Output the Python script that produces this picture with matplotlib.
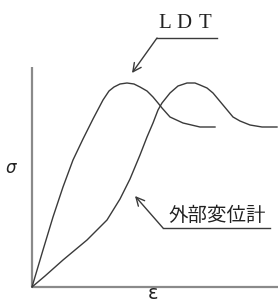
import matplotlib
matplotlib.use("Agg")
import matplotlib.pyplot as plt

# LDT curve (strain, stress) in arbitrary units
ldt_strain = [0, 11, 21, 31, 41, 51, 61, 71, 77, 82, 88, 95, 102, 108, 115, 121, 126, 130, 138, 151, 168, 183]
ldt_stress = [0, 37, 70, 100, 127, 148, 168, 187, 196, 200, 203, 204, 203, 200, 196, 190, 184, 179, 170, 164, 160, 160]

# External displacement gauge curve
ext_strain = [0, 13, 31, 55, 75, 88, 98, 108, 115, 121, 126, 130, 138, 146, 155, 163, 168, 175, 181, 186, 191, 196, 201, 208, 218, 230, 245]
ext_stress = [0, 11, 27, 47, 67, 88, 108, 132, 150, 164, 177, 184, 194, 201, 204, 204, 202, 199, 194, 188, 182, 176, 170, 166, 162, 160, 160]

label_ldt = ["L", "D", "T"]
label_ext = "外部変位計"

W, H = 278, 306
fig = plt.figure(figsize=(W / 100, H / 100), dpi=100)
ox, oy = 32, 287
ax = fig.add_axes([ox / W, (H - oy) / H, (W - ox) / W, oy / H])
ax.set_xlim(0, W - ox)
ax.set_ylim(0, oy)
ax.axis("off")

axis_col = "#8a8a8a"
line_col = "#3a3a3a"

# axes lines
ax.plot([0, 0], [0, 220], color=axis_col, lw=1.6, solid_capstyle="butt", clip_on=False)
ax.plot([0, W - ox], [0, 0], color=axis_col, lw=1.6, solid_capstyle="butt", clip_on=False)

ax.plot(ldt_strain, ldt_stress, color=line_col, lw=1.0, clip_on=False)
ax.plot(ext_strain, ext_stress, color=line_col, lw=1.0, clip_on=False)

arrow = dict(arrowstyle="->,head_length=0.6,head_width=0.3", color=line_col, lw=1.0,
             shrinkA=0, shrinkB=0)

# LDT annotation
ax.plot([125, 185], [249, 249], color=line_col, lw=1.0)
ax.annotate("", xy=(100, 214), xytext=(125, 249), arrowprops=arrow)
for ch, xc in zip(label_ldt, [133, 152, 173]):
    ax.text(xc, 264, ch, family="Liberation Serif", fontsize=15, ha="center", va="center",
            color="#222222")

# external gauge annotation
ax.plot([131, 238], [59, 59], color=line_col, lw=1.0)
ax.annotate("", xy=(103, 91), xytext=(131, 59), arrowprops=arrow)
ax.text(185, 72, label_ext, family=["Noto Sans CJK JP", "DejaVu Sans"], fontsize=14,
        ha="center", va="center", color="#222222")

# axis labels
fig.text(11 / W, 1 - 168 / H, "σ", fontsize=12, style="italic", ha="center", va="center", color="#222222")
fig.text(153 / W, 1 - 303 / H, "ε", fontsize=14, ha="center", va="bottom", color="#222222")

fig.savefig("out.png", dpi=100)
